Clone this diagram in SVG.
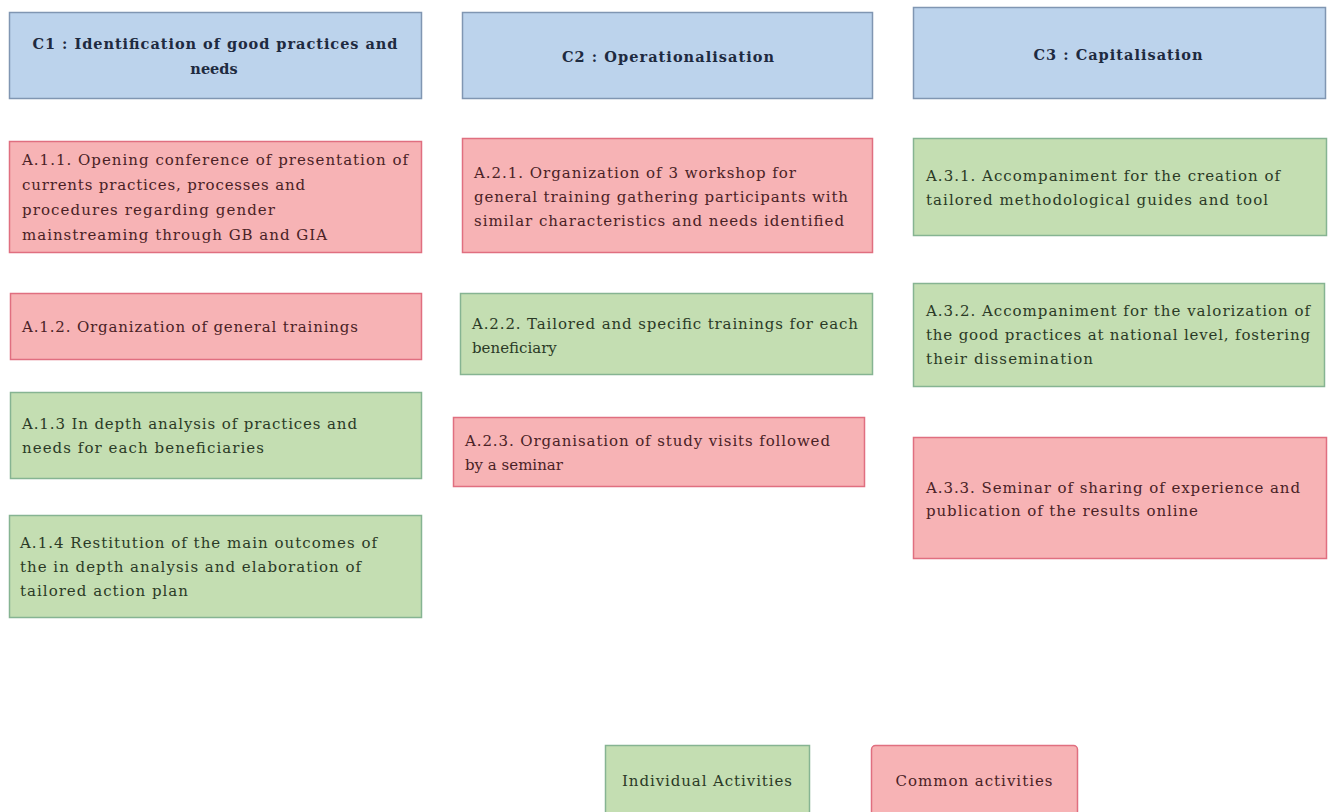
<svg xmlns="http://www.w3.org/2000/svg" width="1329" height="812" viewBox="0 0 1329 812">
<style>
.hdr{fill:#bcd3ec;stroke:#8096b2;stroke-width:1.5}
.com{fill:#f7b3b5;stroke:#e06f80;stroke-width:1.5}
.ind{fill:#c4deb2;stroke:#86b492;stroke-width:1.5}
text{font-family:"DejaVu Serif","Liberation Serif",serif;font-size:15px}
.ht{font-weight:bold;fill:#1e2a40;text-anchor:middle;font-size:14.5px}
.ct{fill:#4a2226}
.it{fill:#2b3a26}
.lt{text-anchor:middle}
</style>
<rect width="1329" height="812" fill="#ffffff"/>
<g id="connectors"></g>
<g id="C1"><rect class="hdr" x="9.5" y="12.5" width="412" height="86"/>
<text class="ht" x="215" y="49" textLength="365">C1 : Identification of good practices and</text>
<text class="ht" x="214" y="74">needs</text></g>
<g id="C2"><rect class="hdr" x="462.5" y="12.5" width="410" height="86"/>
<text class="ht" x="668" y="62" textLength="212">C2 : Operationalisation</text></g>
<g id="C3"><rect class="hdr" x="913.5" y="7.5" width="412" height="91"/>
<text class="ht" x="1118" y="60" textLength="169">C3 : Capitalisation</text></g>

<g id="A11"><rect class="com" x="9.5" y="141.5" width="412" height="111"/>
<text class="ct" x="22" y="165" textLength="386">A.1.1. Opening conference of presentation of</text>
<text class="ct" x="22" y="190" textLength="283">currents practices, processes and</text>
<text class="ct" x="22" y="215" textLength="253">procedures regarding gender</text>
<text class="ct" x="22" y="240" textLength="305">mainstreaming through GB and GIA</text></g>
<g id="A12"><rect class="com" x="10.5" y="293.5" width="411" height="66"/>
<text class="ct" x="22" y="332" textLength="336">A.1.2. Organization of general trainings</text></g>
<g id="A13"><rect class="ind" x="10.5" y="392.5" width="411" height="86"/>
<text class="it" x="22" y="429" textLength="335">A.1.3 In depth analysis of practices and</text>
<text class="it" x="22" y="453" textLength="242">needs for each beneficiaries</text></g>
<g id="A14"><rect class="ind" x="9.5" y="515.5" width="412" height="102"/>
<text class="it" x="20" y="548" textLength="357">A.1.4 Restitution of the main outcomes of</text>
<text class="it" x="20" y="572" textLength="341">the in depth analysis and elaboration of</text>
<text class="it" x="20" y="596" textLength="168">tailored action plan</text></g>

<g id="A21"><rect class="com" x="462.5" y="138.5" width="410" height="114"/>
<text class="ct" x="474" y="178" textLength="322">A.2.1. Organization of 3 workshop for</text>
<text class="ct" x="474" y="202" textLength="374">general training gathering participants with</text>
<text class="ct" x="474" y="226" textLength="370">similar characteristics and needs identified</text></g>
<g id="A22"><rect class="ind" x="460.5" y="293.5" width="412" height="81"/>
<text class="it" x="472" y="329" textLength="386">A.2.2. Tailored and specific trainings for each</text>
<text class="it" x="472" y="353">beneficiary</text></g>
<g id="A23"><rect class="com" x="453.5" y="417.5" width="411" height="69"/>
<text class="ct" x="465" y="446" textLength="365">A.2.3. Organisation of study visits followed</text>
<text class="ct" x="465" y="470">by a seminar</text></g>

<g id="A31"><rect class="ind" x="913.5" y="138.5" width="413" height="97"/>
<text class="it" x="926" y="181" textLength="354">A.3.1. Accompaniment for the creation of</text>
<text class="it" x="926" y="205" textLength="342">tailored methodological guides and tool</text></g>
<g id="A32"><rect class="ind" x="913.5" y="283.5" width="411" height="103"/>
<text class="it" x="926" y="316" textLength="384">A.3.2. Accompaniment for the valorization of</text>
<text class="it" x="926" y="340" textLength="384">the good practices at national level, fostering</text>
<text class="it" x="926" y="364" textLength="167">their dissemination</text></g>
<g id="A33"><rect class="com" x="913.5" y="437.5" width="413" height="121"/>
<text class="ct" x="926" y="493" textLength="374">A.3.3. Seminar of sharing of experience and</text>
<text class="ct" x="926" y="516" textLength="272">publication of the results online</text></g>

<g id="legend-individual"><rect class="ind" x="605.5" y="745.5" width="204" height="70"/>
<text class="it lt" x="707" y="786" textLength="170">Individual Activities</text></g>
<g id="legend-common"><rect class="com" x="871.5" y="745.5" width="206" height="70" rx="4"/>
<text class="ct lt" x="974" y="786" textLength="157">Common activities</text></g>
</svg>
